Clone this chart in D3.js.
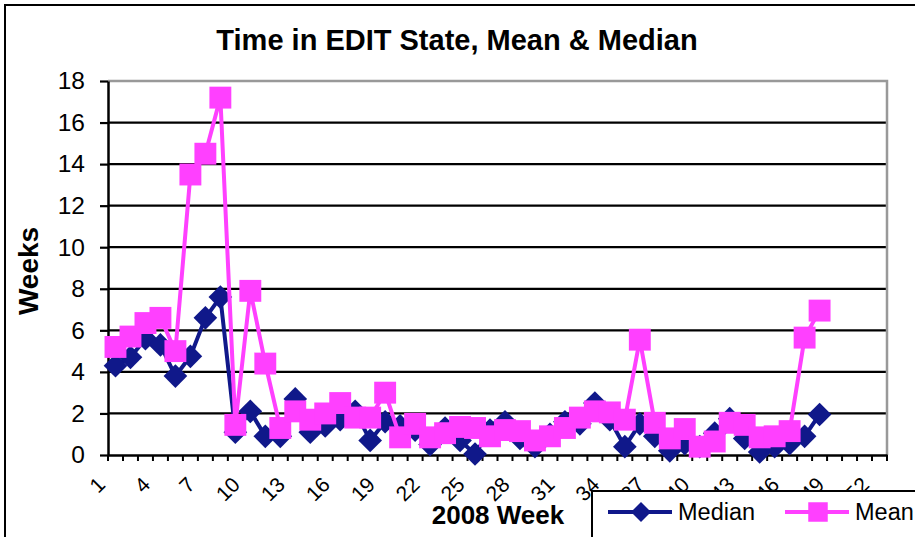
<!DOCTYPE html>
<html>
<head>
<meta charset="utf-8">
<script src="https://cdn.jsdelivr.net/npm/d3@7"></script>
<style>
  body { margin: 0; background: #fff; }
  text { font-family: "Liberation Sans", Arial, sans-serif; }
</style>
</head>
<body>
<div class="chart"></div>
<script>
// weeks of 2008 on the category axis
var weeks = d3.range(1, 53);
var weekLabels = weeks.filter((w) => (w - 1) % 3 === 0);

// median and mean time in EDIT state (weeks), weeks 1..48
var median = [4.3, 4.7, 5.6, 5.3, 3.8, 4.75, 6.6, 7.6, 1.1, 2.1, 0.9, 0.9,
  2.7, 1.1, 1.4, 1.7, 2.1, 0.7, 1.6, 1.4, 1.2, 0.5, 1.3, 0.7,
  0.05, 1.2, 1.6, 0.8, 0.4, 1.0, 1.6, 1.5, 2.5, 1.7, 0.4, 1.5,
  0.9, 0.2, 0.55, 0.4, 1.05, 1.75, 0.8, 0.15, 0.4, 0.55, 0.9, 1.95];
var mean = [5.2, 5.7, 6.35, 6.6, 5.0, 13.5, 14.5, 17.2, 1.45, 7.9, 4.4, 1.3,
  2.1, 1.7, 2.0, 2.5, 1.8, 1.8, 3.0, 0.85, 1.5, 0.85, 1.05, 1.35,
  1.3, 0.9, 1.2, 1.15, 0.7, 0.9, 1.3, 1.8, 2.1, 2.05, 1.7, 5.55,
  1.55, 0.8, 1.25, 0.4, 0.65, 1.55, 1.45, 0.85, 0.9, 1.15, 5.65, 6.95];

var yTicks = d3.range(0, 19, 2);

var W = 915, H = 537;
var plot = { left: 108, right: 887, top: 81, bottom: 455 };

var svg = d3
  .select(".chart")
  .append("svg")
  .attr("width", W)
  .attr("height", H);

// outer chart frame (runs off the right/bottom edge like the source)
svg.append("rect")
  .attr("x", 5).attr("y", 5)
  .attr("width", 1000).attr("height", 700)
  .attr("fill", "#fff")
  .attr("stroke", "#000")
  .attr("stroke-width", 2);

var xScale = d3.scaleBand().domain(weeks).range([plot.left, plot.right]).padding(0);
var yScale = d3.scaleLinear().domain([0, 18]).range([plot.bottom, plot.top]);
var cx = (w) => xScale(w) + xScale.bandwidth() / 2;

// gridlines
svg.append("g")
  .selectAll("line")
  .data(yTicks.filter((t) => t > 0 && t < 18))
  .join("line")
  .attr("x1", plot.left).attr("x2", plot.right)
  .attr("y1", (d) => yScale(d)).attr("y2", (d) => yScale(d))
  .attr("stroke", "#000")
  .attr("stroke-width", 2.2);

// plot border top/right (grey)
svg.append("path")
  .attr("d", `M${plot.left},${yScale(18)}H${plot.right}V${plot.bottom}`)
  .attr("fill", "none")
  .attr("stroke", "#999")
  .attr("stroke-width", 2.5);

// y axis
var yAxis = svg.append("g")
  .attr("transform", `translate(${plot.left},0)`)
  .call(d3.axisLeft(yScale).tickValues(yTicks).tickSize(8).tickPadding(15).tickSizeOuter(0));
yAxis.select(".domain").attr("stroke-width", 2.5);
yAxis.selectAll(".tick line").attr("stroke-width", 2.2);
yAxis.selectAll("text")
  .attr("font-size", 24.5)
  .attr("fill", "#000")
  .style("font-family", "Liberation Sans, Arial, sans-serif");

// x axis: tick marks on category boundaries
var bounds = weeks.map((w) => xScale(w)).concat([plot.right]);
svg.append("g")
  .selectAll("line")
  .data(bounds)
  .join("line")
  .attr("x1", (d) => d).attr("x2", (d) => d)
  .attr("y1", plot.bottom).attr("y2", plot.bottom + 6)
  .attr("stroke", "#000")
  .attr("stroke-width", 2);

var xAxis = svg.append("g")
  .attr("transform", `translate(0,${plot.bottom})`)
  .call(d3.axisBottom(xScale).tickValues(weekLabels).tickSize(0).tickSizeOuter(0));
xAxis.select(".domain").attr("stroke-width", 2.5);
xAxis.selectAll("text")
  .attr("font-size", 21)
  .attr("fill", "#000")
  .attr("text-anchor", "end")
  .attr("dy", 0)
  .attr("y", 0)
  .attr("transform", "translate(-9,31) rotate(-45)")
  .style("font-family", "Liberation Sans, Arial, sans-serif");

// series
var series = [
  { name: "Median", values: median, color: "#10188a", shape: "diamond" },
  { name: "Mean", values: mean, color: "#ff40ff", shape: "square" },
];

function marker(shape, big) {
  if (shape === "diamond") return d3.symbol(d3.symbolSquare, big ? 280 : 200)();
  return d3.symbol(d3.symbolSquare, big ? 480 : 380)();
}

var line = d3.line()
  .x((d, i) => cx(weeks[i]))
  .y((d) => yScale(d));

series.forEach((s) => {
  var g = svg.append("g");
  g.append("path")
    .datum(s.values)
    .attr("d", line)
    .attr("fill", "none")
    .attr("stroke", s.color)
    .attr("stroke-width", 4)
    .attr("stroke-linejoin", "round");
  g.selectAll("path.pt")
    .data(s.values)
    .join("path")
    .attr("class", "pt")
    .attr("d", marker(s.shape, true))
    .attr("transform", (d, i) =>
      `translate(${cx(weeks[i])},${yScale(d)})` + (s.shape === "diamond" ? " rotate(45)" : ""))
    .attr("fill", s.color);
});

// titles
svg.append("text")
  .attr("x", 457).attr("y", 50)
  .attr("text-anchor", "middle")
  .attr("font-size", 29)
  .attr("font-weight", "bold")
  .text("Time in EDIT State, Mean & Median");

svg.append("text")
  .attr("transform", "translate(38,271) rotate(-90)")
  .attr("text-anchor", "middle")
  .attr("font-size", 28)
  .attr("font-weight", "bold")
  .text("Weeks");

svg.append("text")
  .attr("x", 498).attr("y", 524)
  .attr("text-anchor", "middle")
  .attr("font-size", 26)
  .attr("font-weight", "bold")
  .text("2008 Week");

// legend box
var legend = svg.append("g");
legend.append("rect")
  .attr("x", 592).attr("y", 491)
  .attr("width", 500).attr("height", 100)
  .attr("fill", "#fff")
  .attr("stroke", "#000")
  .attr("stroke-width", 2);

var legendPos = [608, 785];
series.forEach((s, i) => {
  var x0 = legendPos[i];
  legend.append("line")
    .attr("x1", x0).attr("x2", x0 + 64)
    .attr("y1", 512).attr("y2", 512)
    .attr("stroke", s.color)
    .attr("stroke-width", 4);
  legend.append("path")
    .attr("d", marker(s.shape, false))
    .attr("transform", `translate(${x0 + 33},512)` + (s.shape === "diamond" ? " rotate(45)" : ""))
    .attr("fill", s.color);
  legend.append("text")
    .attr("x", x0 + 70).attr("y", 520)
    .attr("font-size", 23.5)
    .text(s.name);
});
</script>
</body>
</html>
